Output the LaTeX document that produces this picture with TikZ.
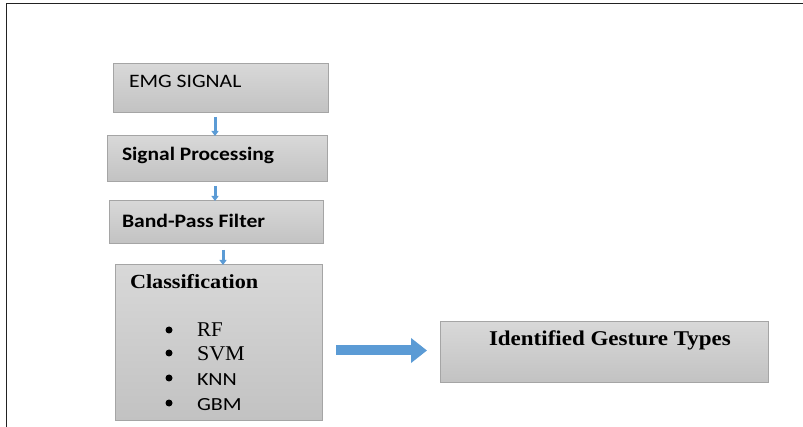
\documentclass[tikz,border=0pt]{standalone}
\usepackage{fontspec}
\setmainfont{Liberation Serif}
\newfontfamily\calib{Carlito}
\usetikzlibrary{arrows.meta}
\definecolor{boxtop}{HTML}{D8D8D8}
\definecolor{boxbot}{HTML}{C2C2C2}
\definecolor{boxedge}{HTML}{A5A5A5}
\definecolor{arrblue}{HTML}{5B9BD5}
\definecolor{framec}{HTML}{222222}
\newcommand{\hstretch}[2]{\scalebox{#1}[1]{#2}}
\tikzset{
  box/.style={draw=boxedge, line width=1pt, top color=boxtop, bottom color=boxbot,
    inner sep=0pt, outer sep=0pt, anchor=north west},
  lbl/.style={inner sep=0pt, outer sep=0pt, anchor=base west, text=black},
  thinarrow/.style={draw=arrblue, line width=3pt, -{Triangle[width=7pt,length=5pt]}},
  bigarrow/.style={draw=arrblue, line width=10pt, -{Triangle[width=24pt,length=16pt]}},
  bul/.style={circle, fill=black, inner sep=0pt, minimum size=7pt},
}
\begin{document}
\begin{tikzpicture}[x=1pt,y=-1pt]
\useasboundingbox (0,0) rectangle (803,427);
% frame
\draw[framec, line width=1.8pt] (6.5,427) -- (6.5,3.5) -- (803,3.5);
% boxes
\node[box, minimum width=215pt, minimum height=49pt] (emg) at (113,64) {};
\node[box, minimum width=220pt, minimum height=46pt] (sp) at (107,136) {};
\node[box, minimum width=214pt, minimum height=43pt] (bpf) at (109,201) {};
\node[box, minimum width=207pt, minimum height=155pt] (cls) at (115,265) {};
\node[box, minimum width=328pt, minimum height=61pt] (igt) at (440,322) {};
% texts
\node[lbl, font=\calib\fontsize{19}{22}\selectfont] (temg) at (129,88) {\hstretch{1.14}{EMG SIGNAL}};
\node[lbl, font=\calib\bfseries\fontsize{19}{22}\selectfont] (tsp) at (122,161) {\hstretch{1.13}{Signal Processing}};
\node[lbl, font=\calib\bfseries\fontsize{19}{22}\selectfont] (tbpf) at (122,228) {\hstretch{1.14}{Band-Pass Filter}};
\node[lbl, font=\bfseries\fontsize{20}{24}\selectfont] (tcls) at (130,289) {\hstretch{1.11}{Classification}};
\node[lbl, font=\bfseries\fontsize{21}{25}\selectfont] (tigt) at (489,346) {\hstretch{1.095}{Identified Gesture Types}};
\node[bul] (b1) at (169,330) {};
\node[bul] (b2) at (169,353) {};
\node[bul] (b3) at (169,378) {};
\node[bul] (b4) at (169,403) {};
\node[lbl, font=\fontsize{21}{25}\selectfont] (trf) at (197,337) {RF};
\node[lbl, font=\fontsize{21}{25}\selectfont] (tsvm) at (197,361) {\hstretch{1.05}{SVM}};
\node[lbl, font=\calib\fontsize{18.5}{22}\selectfont] (tknn) at (197,385) {\hstretch{1.19}{KNN}};
\node[lbl, font=\calib\fontsize{18.5}{22}\selectfont] (tgbm) at (197,410) {\hstretch{1.19}{GBM}};
% connectors
\coordinate (a1s) at (215,117);
\coordinate (a2s) at (215,186);
\coordinate (a3s) at (223,250);
\draw[thinarrow] (a1s) -- (a1s |- sp.north);
\draw[thinarrow] (a2s) -- (a2s |- bpf.north);
\draw[thinarrow] (a3s) -- (a3s |- cls.north);
\coordinate (a4s) at (336,350.5);
\coordinate (a4e) at (427,350.5);
\draw[bigarrow] (a4s) -- (a4e);
\end{tikzpicture}
\end{document}
